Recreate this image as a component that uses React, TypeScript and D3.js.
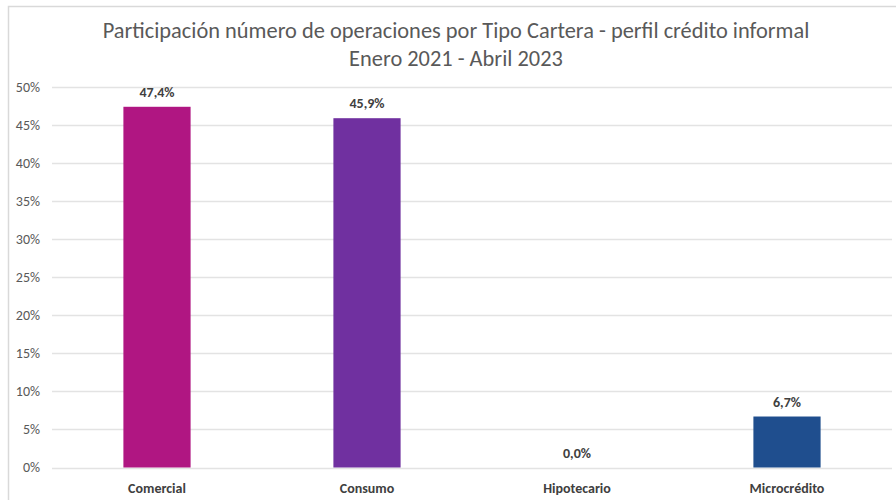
import { useEffect, useRef } from 'react';
import * as d3 from 'd3';

const categories = ['Comercial', 'Consumo', 'Hipotecario', 'Microcrédito'];
const shares = [47.4, 45.9, 0.0, 6.7];
const barColors = ['#B01682', '#7030A0', '#2E75B6', '#1F4E8E'];
const yTicks = [0, 5, 10, 15, 20, 25, 30, 35, 40, 45, 50];
const titleLines = [
  'Participación número de operaciones por Tipo Cartera - perfil crédito informal',
  'Enero 2021 - Abril 2023',
];

export default function App() {
  const svgRef = useRef<SVGSVGElement>(null);

  useEffect(() => {
    if (!svgRef.current) return;
    const svg = d3.select(svgRef.current);
    svg.selectAll('*').remove();

    const W = 896;
    const H = 500;
    const left = 52;
    const right = 892;
    const top = 87;
    const bottom = 467.5;
    const font = 'Carlito, Calibri, Lato, sans-serif';

    svg.append('rect').attr('width', W).attr('height', H).attr('fill', '#fff');

    // frame
    svg.append('path')
      .attr('d', `M8.5,${H} V6.5 H${W}`)
      .attr('fill', 'none')
      .attr('stroke', '#d9d9d9')
      .attr('stroke-width', 1.5);

    const x = d3.scaleBand<string>()
      .domain(categories)
      .range([left, right])
      .paddingInner(0.68)
      .paddingOuter(0.34);

    const y = d3.scaleLinear().domain([0, 50]).range([bottom, top]);

    // title
    svg.append('g')
      .selectAll('text')
      .data(titleLines)
      .join('text')
      .attr('x', 456)
      .attr('y', (_d, i) => 38 + i * 28)
      .attr('text-anchor', 'middle')
      .style('font-family', font)
      .style('font-size', '22.4px')
      .style('fill', '#595959')
      .text((d) => d);

    // grid
    svg.append('g')
      .selectAll('line')
      .data(yTicks)
      .join('line')
      .attr('x1', left)
      .attr('x2', right)
      .attr('y1', (d) => Math.round(y(d)) + 0.5)
      .attr('y2', (d) => Math.round(y(d)) + 0.5)
      .attr('stroke', '#e3e3e3')
      .attr('stroke-width', 1.3);

    // y tick labels
    svg.append('g')
      .selectAll('text')
      .data(yTicks)
      .join('text')
      .attr('x', 40)
      .attr('y', (d) => y(d))
      .attr('dy', '0.35em')
      .attr('text-anchor', 'end')
      .style('font-family', font)
      .style('font-size', '14px')
      .style('fill', '#595959')
      .text((d) => `${d}%`);

    // bars
    svg.append('g')
      .selectAll('rect')
      .data(shares)
      .join('rect')
      .attr('x', (_d, i) => x(categories[i])!)
      .attr('width', x.bandwidth())
      .attr('y', (d) => y(d))
      .attr('height', (d) => y(0) - y(d))
      .attr('fill', (_d, i) => barColors[i]);

    // data labels
    svg.append('g')
      .selectAll('text')
      .data(shares)
      .join('text')
      .attr('x', (_d, i) => x(categories[i])! + x.bandwidth() / 2)
      .attr('y', (d) => y(d) - 10)
      .attr('text-anchor', 'middle')
      .style('font-family', font)
      .style('font-size', '14px')
      .style('font-weight', 'bold')
      .style('fill', '#404040')
      .text((d) => `${d.toFixed(1).replace('.', ',')}%`);

    // category labels
    svg.append('g')
      .selectAll('text')
      .data(categories)
      .join('text')
      .attr('x', (d) => x(d)! + x.bandwidth() / 2)
      .attr('y', 493)
      .attr('text-anchor', 'middle')
      .style('font-family', font)
      .style('font-size', '14px')
      .style('font-weight', 'bold')
      .style('fill', '#404040')
      .text((d) => d);
  }, []);

  return (
    <svg
      ref={svgRef}
      width={896}
      height={500}
      style={{ position: 'absolute', left: 0, top: 0, display: 'block' }}
    />
  );
}
